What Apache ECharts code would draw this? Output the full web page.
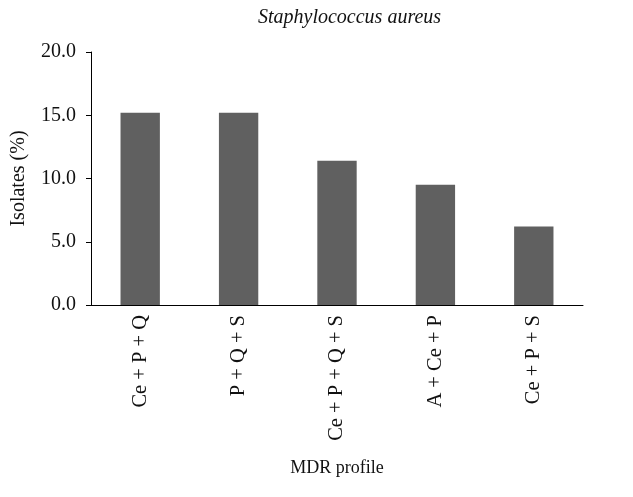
<!DOCTYPE html>
<html>
<head>
<meta charset="utf-8">
<script src="https://cdn.jsdelivr.net/npm/echarts@6/dist/echarts.min.js"></script>
<style>html,body{margin:0;padding:0;background:#fff}#c{width:633px;height:497px}</style>
</head>
<body>
<div id="c"></div>
<script>
const categories = ["Ce + P + Q", "P + Q + S", "Ce + P + Q + S", "A + Ce + P", "Ce + P + S"];
const values = [15.2, 15.2, 11.4, 9.5, 6.2];
const yTicks = [0, 5, 10, 15, 20];

const chart = echarts.init(document.getElementById('c'), null, {renderer: 'canvas'});
const serif = '"Liberation Serif", "DejaVu Serif", serif';
chart.setOption({
  animation: false,
  backgroundColor: '#fff',
  title: {
    text: 'Staphylococcus aureus',
    left: 253,
    top: 3,
    textStyle: {fontFamily: serif, fontStyle: 'italic', fontWeight: 'normal', fontSize: 20, color: '#111'}
  },
  grid: {left: 91, top: 52, right: 50, bottom: 192, containLabel: false},
  xAxis: {
    type: 'category',
    data: categories,
    name: 'MDR profile',
    nameLocation: 'middle',
    nameGap: 154,
    nameTextStyle: {fontFamily: serif, fontSize: 18, color: '#111'},
    axisLine: {show: true, lineStyle: {color: '#000', width: 1}},
    axisTick: {show: false},
    axisLabel: {rotate: 90, margin: 10, fontFamily: serif, fontSize: 20.5, color: '#111', interval: 0}
  },
  yAxis: {
    type: 'value',
    min: yTicks[0],
    max: yTicks[yTicks.length - 1],
    interval: 5,
    name: 'Isolates (%)',
    nameLocation: 'middle',
    nameGap: 62,
    nameTextStyle: {fontFamily: serif, fontSize: 20, color: '#111'},
    axisLine: {show: true, lineStyle: {color: '#000', width: 1}},
    axisTick: {show: true, length: 5, lineStyle: {color: '#000'}},
    splitLine: {show: false},
    axisLabel: {margin: 15, fontFamily: serif, fontSize: 20, color: '#111', formatter: v => v.toFixed(1)}
  },
  series: [{
    type: 'bar',
    data: values,
    barWidth: '40%',
    itemStyle: {color: '#606060'}
  }]
});
</script>
</body>
</html>
